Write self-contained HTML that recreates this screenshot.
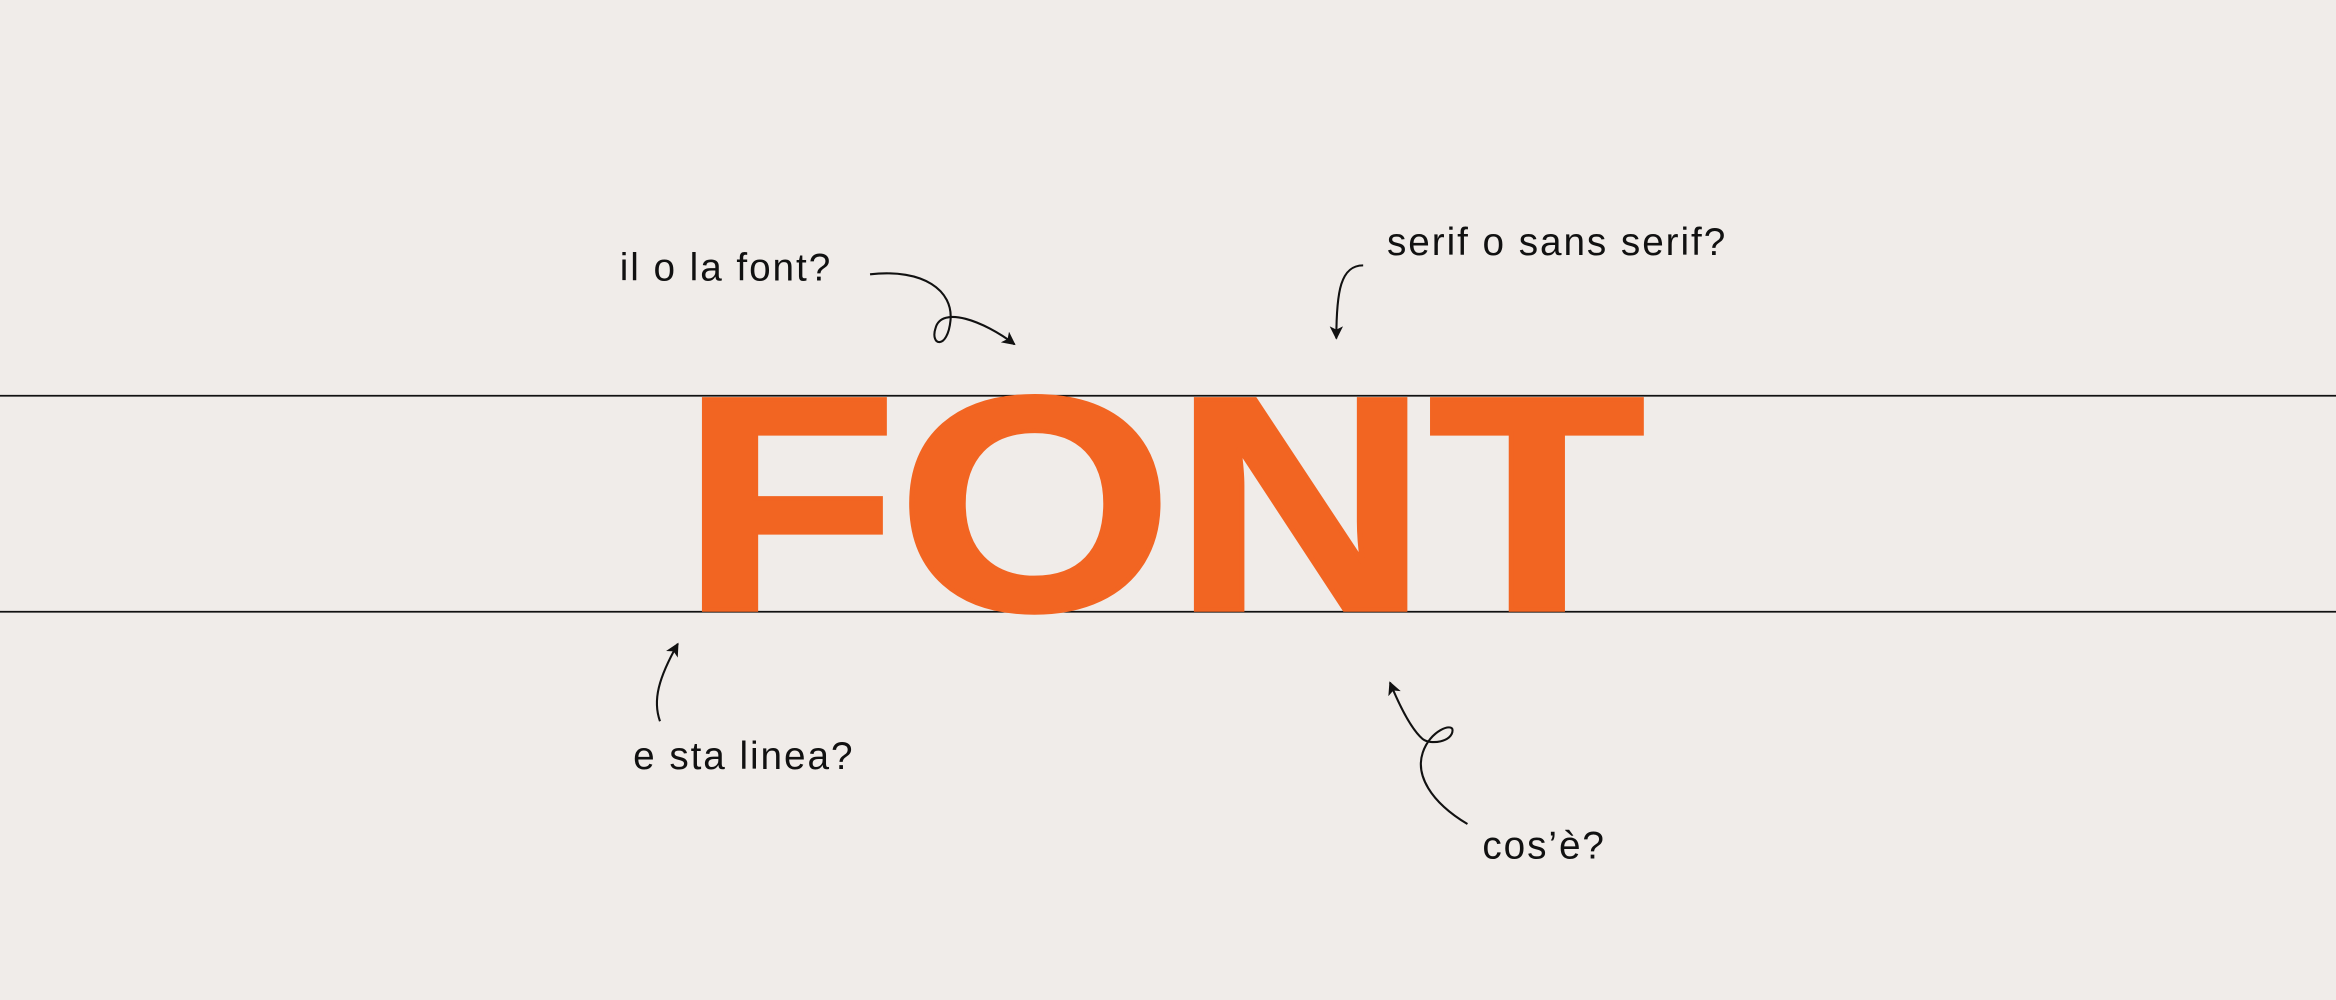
<!DOCTYPE html>
<html>
<head>
<meta charset="utf-8">
<style>
html,body{margin:0;padding:0;background:#F0ECE9;}
svg{display:block;}
</style>
</head>
<body>
<svg width="2336" height="1000" viewBox="0 0 1568 671" xmlns="http://www.w3.org/2000/svg">
<defs>
<marker id="ah" viewBox="0 0 10 10" refX="9" refY="5" markerWidth="9" markerHeight="9" markerUnits="userSpaceOnUse" orient="auto">
<path d="M0,0 L10,5 L0,10 L2.5,5 Z" fill="#111"/>
</marker>
</defs>
<rect width="1568" height="671" fill="#F0ECE9"/>
<line x1="0" y1="265.5" x2="1568" y2="265.5" stroke="#111" stroke-width="1.2"/>
<line x1="0" y1="410.5" x2="1568" y2="410.5" stroke="#111" stroke-width="1.2"/>
<g transform="translate(457,409) scale(1.16,1)">
<text x="0" y="0" font-family="Liberation Sans, sans-serif" font-weight="bold" font-size="205" fill="#F26522" stroke="#F26522" stroke-width="3">FONT</text>
</g>

<g font-family="Liberation Sans, sans-serif" font-size="26" fill="#111" letter-spacing="1.3">
<text x="416" y="188">il o la font?</text>
<text x="931" y="171">serif o sans serif?</text>
<text x="425" y="516">e sta linea?</text>
<text x="995" y="576">cos’è?</text>
</g>

<g fill="none" stroke="#111" stroke-width="1.4">
<path d="M584,184 C620,180 640,195 638,215 C636,235 624,232 628,220 C632,205 660,215 681,231" marker-end="url(#ah)"/>
<path d="M915,178 C900,178 897,195 897,227" marker-end="url(#ah)"/>
<path d="M443,484 C438,470 442,455 455,432" marker-end="url(#ah)"/>
<path d="M985,553 C960,538 950,520 955,505 C960,490 975,485 975,490 C975,498 960,500 955,496 C948,490 940,475 933,458" marker-end="url(#ah)"/>
</g>
</svg>
</body>
</html>
